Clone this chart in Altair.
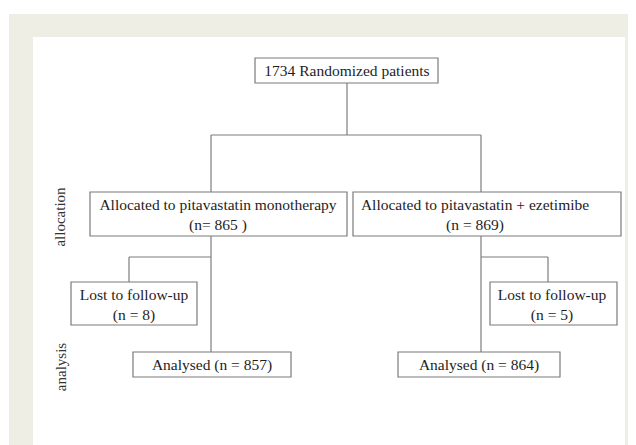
import altair as alt
import pandas as pd

# Panels (background)
panel_name = ["outer", "inner"]
panel_x1 = [9, 33]
panel_x2 = [636, 625]
panel_y1 = [14, 37]
panel_y2 = [445, 445]
panel_fill = ["#efeee4", "#ffffff"]

# Boxes of the flow diagram
box_name = ["randomized", "alloc_mono", "alloc_combo", "lost_mono", "lost_combo", "anal_mono", "anal_combo"]
box_x1 = [255, 90, 353, 71, 490, 133, 398]
box_x2 = [438, 347, 621, 197, 617, 291, 560]
box_y1 = [58, 192, 192, 282, 282, 352, 352]
box_y2 = [83, 236, 236, 325, 325, 377, 377]

# Connector segments
seg_x1 = [347, 211, 211, 481, 211, 129, 129, 481, 481, 548]
seg_y1 = [83, 135, 135, 135, 236, 257, 257, 236, 257, 257]
seg_x2 = [347, 481, 211, 481, 211, 211, 129, 481, 548, 548]
seg_y2 = [135, 135, 192, 192, 352, 257, 282, 352, 257, 282]

# Text lines
text_label = [
    "1734 Randomized patients",
    "Allocated to pitavastatin monotherapy", "(n= 865 )",
    "Allocated to pitavastatin + ezetimibe", "(n = 869)",
    "Lost to follow-up", "(n = 8)",
    "Lost to follow-up", "(n = 5)",
    "Analysed (n = 857)",
    "Analysed (n = 864)",
]
text_x = [347, 218, 218, 475, 475, 134, 134, 552, 552, 212, 479]
text_y = [71, 205, 225, 205, 225, 295, 315, 295, 315, 365, 365]

# Stage labels (rotated)
stage_label = ["allocation", "analysis"]
stage_x = [60, 61]
stage_y = [217, 367]

xs = alt.Scale(domain=[8, 628], range=[0, 620], nice=False, zero=False)
ys = alt.Scale(domain=[8, 445], range=[0, 437], nice=False, zero=False)

panels = pd.DataFrame({"name": panel_name, "x1": panel_x1, "x2": panel_x2,
                       "y1": panel_y1, "y2": panel_y2, "fill": panel_fill})
boxes = pd.DataFrame({"name": box_name, "x1": box_x1, "x2": box_x2, "y1": box_y1, "y2": box_y2})
segs = pd.DataFrame({"x1": seg_x1, "y1": seg_y1, "x2": seg_x2, "y2": seg_y2})
texts = pd.DataFrame({"label": text_label, "x": text_x, "y": text_y})
stages = pd.DataFrame({"label": stage_label, "x": stage_x, "y": stage_y})

panel_layer = alt.Chart(panels).mark_rect(strokeWidth=0).encode(
    x=alt.X("x1:Q", scale=xs, axis=None), x2="x2:Q",
    y=alt.Y("y1:Q", scale=ys, axis=None), y2="y2:Q",
    fill=alt.Fill("fill:N", scale=None),
)

seg_layer = alt.Chart(segs).mark_rule(color="#7d7d7d", strokeWidth=1.2).encode(
    x=alt.X("x1:Q", scale=xs, axis=None), x2="x2:Q",
    y=alt.Y("y1:Q", scale=ys, axis=None), y2="y2:Q",
)

box_layer = alt.Chart(boxes).mark_rect(fill="#ffffff", stroke="#7a7a7a", strokeWidth=1.2).encode(
    x=alt.X("x1:Q", scale=xs, axis=None), x2="x2:Q",
    y=alt.Y("y1:Q", scale=ys, axis=None), y2="y2:Q",
)

text_layer = alt.Chart(texts).mark_text(
    font="Liberation Serif", fontSize=15.5, color="#1e1e1e", baseline="middle", align="center"
).encode(
    x=alt.X("x:Q", scale=xs, axis=None),
    y=alt.Y("y:Q", scale=ys, axis=None),
    text="label:N",
)

stage_layer = alt.Chart(stages).mark_text(
    font="Liberation Serif", fontSize=15, color="#333333", baseline="middle", align="center", angle=270
).encode(
    x=alt.X("x:Q", scale=xs, axis=None),
    y=alt.Y("y:Q", scale=ys, axis=None),
    text="label:N",
)

chart = alt.layer(panel_layer, seg_layer, box_layer, text_layer, stage_layer).properties(
    width=620, height=437, autosize=alt.AutoSizeParams(type="none"), padding=0,
    background="#ffffff",
).configure_view(stroke=None)

chart.save("out.html", embed_options={"renderer": "svg", "actions": False})
